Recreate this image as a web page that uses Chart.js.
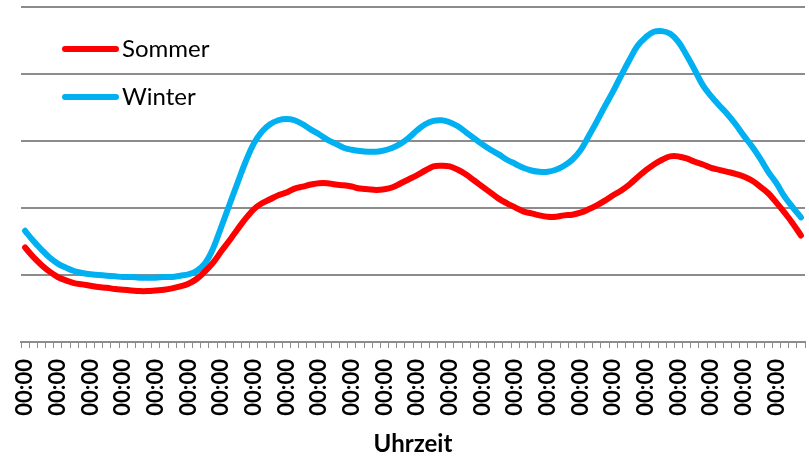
<!DOCTYPE html>
<html>
<head>
<meta charset="utf-8">
<script src="https://cdn.jsdelivr.net/npm/chart.js@4/dist/chart.umd.min.js"></script>
<style>
  html, body { margin: 0; padding: 0; background: #ffffff; }
  #wrap { width: 809px; height: 459px; position: relative; }
</style>
</head>
<body>
<div id="wrap"><canvas id="c" width="809" height="459"></canvas></div>
<script>
// 96 quarter-hour categories (all displayed as "00:00" in the original)
const categories = Array.from({length: 96}, () => "00:00");
const seriesNames = ["Sommer", "Winter"];
const sommer = [
  1.41, 1.27, 1.15, 1.05, 0.97, 0.92, 0.88, 0.86, 0.84, 0.82,
  0.81, 0.79, 0.78, 0.77, 0.76, 0.76, 0.77, 0.78, 0.80, 0.83,
  0.87, 0.94, 1.05, 1.18, 1.35, 1.51, 1.68, 1.84, 1.98, 2.07,
  2.13, 2.19, 2.23, 2.29, 2.32, 2.35, 2.37, 2.37, 2.35, 2.34,
  2.32, 2.29, 2.28, 2.27, 2.28, 2.31, 2.37, 2.43, 2.49, 2.56,
  2.62, 2.63, 2.62, 2.57, 2.50, 2.41, 2.32, 2.23, 2.14, 2.07,
  2.01, 1.95, 1.92, 1.89, 1.87, 1.87, 1.89, 1.90, 1.93, 1.98,
  2.04, 2.11, 2.19, 2.26, 2.35, 2.46, 2.56, 2.65, 2.72, 2.77,
  2.77, 2.74, 2.69, 2.65, 2.60, 2.57, 2.54, 2.51, 2.47, 2.41,
  2.32, 2.22, 2.08, 1.93, 1.77, 1.59
];
const winter = [
  1.66, 1.51, 1.38, 1.26, 1.17, 1.11, 1.06, 1.03, 1.01, 1.00,
  0.99, 0.98, 0.97, 0.97, 0.96, 0.96, 0.96, 0.97, 0.97, 0.99,
  1.01, 1.06, 1.17, 1.39, 1.71, 2.04, 2.37, 2.69, 2.96, 3.14,
  3.25, 3.31, 3.33, 3.31, 3.25, 3.17, 3.10, 3.02, 2.96, 2.90,
  2.87, 2.85, 2.84, 2.84, 2.86, 2.90, 2.96, 3.05, 3.16, 3.25,
  3.30, 3.31, 3.28, 3.22, 3.13, 3.04, 2.95, 2.87, 2.80, 2.72,
  2.66, 2.60, 2.56, 2.54, 2.54, 2.57, 2.63, 2.72, 2.86, 3.07,
  3.29, 3.52, 3.74, 3.98, 4.21, 4.42, 4.55, 4.63, 4.64, 4.60,
  4.48, 4.28, 4.06, 3.83, 3.67, 3.53, 3.40, 3.25, 3.08, 2.92,
  2.74, 2.54, 2.37, 2.17, 2.01, 1.86
];
const yTicks = [0, 1, 2, 3, 4, 5];
const xTitle = "Uhrzeit";
const colors = ["#FF0000", "#00B0F0"];

const insideLegend = {
  id: 'insideLegend',
  afterDatasetsDraw(chart) {
    const ctx = chart.ctx;
    const rows = [49, 97];
    chart.data.datasets.forEach((ds, i) => {
      const y = rows[i];
      ctx.save();
      ctx.strokeStyle = ds.borderColor;
      ctx.lineWidth = 6;
      ctx.lineCap = 'round';
      ctx.beginPath();
      ctx.moveTo(65, y);
      ctx.lineTo(116, y);
      ctx.stroke();
      ctx.fillStyle = '#000000';
      ctx.font = '24px Lato';
      ctx.textBaseline = 'middle';
      ctx.textAlign = 'left';
      ctx.fillText(ds.label, 122, y);
      ctx.restore();
    });
  }
};

new Chart(document.getElementById('c'), {
  type: 'line',
  data: {
    labels: categories,
    datasets: [
      { label: seriesNames[0], data: sommer, borderColor: colors[0], backgroundColor: colors[0] },
      { label: seriesNames[1], data: winter, borderColor: colors[1], backgroundColor: colors[1] }
    ]
  },
  options: {
    responsive: false,
    animation: false,
    devicePixelRatio: 1,
    layout: { padding: { left: 21, right: 4, top: 7, bottom: 0 } },
    elements: {
      line: { borderWidth: 6, tension: 0.4, borderCapStyle: 'round', borderJoinStyle: 'round' },
      point: { radius: 0, hoverRadius: 0 }
    },
    plugins: { legend: { display: false }, tooltip: { enabled: false } },
    scales: {
      x: {
        offset: true,
        grid: { display: true, drawOnChartArea: false, drawTicks: true, tickLength: 6, offset: true, color: '#8c8c8c', lineWidth: 1 },
        border: { display: true, color: '#8c8c8c', width: 2 },
        ticks: {
          autoSkip: false, minRotation: 90, maxRotation: 90, padding: 11,
          color: '#000000', font: { family: 'Lato', size: 22, weight: 'bold' },
          callback: function(v, i) { return i % 4 === 0 ? categories[i] : ''; }
        },
        title: { display: true, text: xTitle, color: '#000000', font: { family: 'Lato', size: 24, weight: 'bold' }, padding: { top: 0, bottom: 0 } },
        afterFit: (scale) => { scale.height = 117; scale.paddingLeft = 0; scale.paddingRight = 0; }
      },
      y: {
        min: 0, max: 5,
        afterBuildTicks: (scale) => { scale.ticks = yTicks.map(v => ({ value: v })); },
        grid: { color: '#8c8c8c', lineWidth: 2, drawTicks: false },
        border: { display: false },
        ticks: { display: false }
      }
    }
  },
  plugins: [insideLegend]
});
</script>
</body>
</html>
